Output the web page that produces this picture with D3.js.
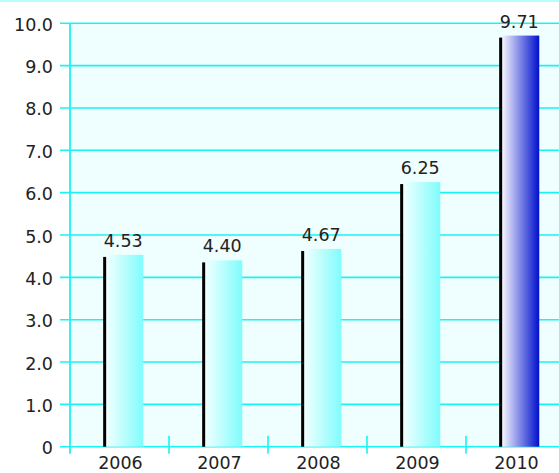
<!DOCTYPE html>
<html>
<head>
<meta charset="utf-8">
<script src="https://cdn.jsdelivr.net/npm/d3@7"></script>
<style>
  html, body { margin: 0; padding: 0; background: #ffffff; }
  svg { display: block; }
  text { font-family: "DejaVu Sans", sans-serif; font-size: 17.5px; fill: #222; }
</style>
</head>
<body>
<svg id="chart" width="559" height="473"></svg>
<script>
// Yearly values
const years = ["2006", "2007", "2008", "2009", "2010"];
const values = [4.53, 4.40, 4.67, 6.25, 9.71];
const yTicks = [0, 1, 2, 3, 4, 5, 6, 7, 8, 9, 10];
const yTickLabels = ["0", "1.0", "2.0", "3.0", "4.0", "5.0", "6.0", "7.0", "8.0", "9.0", "10.0"];

const W = 559, H = 473;
const plotLeft = 70, plotRight = 565, plotTop = 23.3, plotBottom = 446.7;
const grid = "#19f3f3";

const svg = d3.select("#chart");

const x = d3.scaleBand().domain(years).range([plotLeft, plotRight]).padding(0);
const y = d3.scaleLinear().domain([0, 10]).range([plotBottom, plotTop]);
const bw = x.bandwidth();

// gradients
const defs = svg.append("defs");
const gCyan = defs.append("linearGradient").attr("id", "gCyan");
gCyan.append("stop").attr("offset", "0%").attr("stop-color", "#f2ffff");
gCyan.append("stop").attr("offset", "100%").attr("stop-color", "#80fcfc");
const gBlue = defs.append("linearGradient").attr("id", "gBlue");
gBlue.append("stop").attr("offset", "0%").attr("stop-color", "#f6f6ff");
gBlue.append("stop").attr("offset", "100%").attr("stop-color", "#0010cc");

// thin strip along the top edge
svg.append("rect").attr("x", 0).attr("y", 0).attr("width", W).attr("height", 2)
  .attr("fill", "#b8fdfd");

// plot background
svg.append("rect")
  .attr("x", plotLeft).attr("y", plotTop)
  .attr("width", W - plotLeft).attr("height", plotBottom - plotTop)
  .attr("fill", "#effefe");

// horizontal gridlines (extend left as ticks)
svg.append("g").selectAll("line").data(yTicks).join("line")
  .attr("x1", plotLeft - 10).attr("x2", W)
  .attr("y1", d => y(d)).attr("y2", d => y(d))
  .attr("stroke", grid).attr("stroke-width", 1.6);

// y tick labels
svg.append("g").selectAll("text").data(yTicks).join("text")
  .attr("x", 53).attr("y", d => y(d) + 7.5)
  .attr("text-anchor", "end")
  .text((d, i) => yTickLabels[i]);

// vertical axis line
svg.append("line")
  .attr("x1", plotLeft).attr("x2", plotLeft)
  .attr("y1", plotTop).attr("y2", plotBottom + 7)
  .attr("stroke", grid).attr("stroke-width", 1.8);

// x category separators
svg.append("g").selectAll("line").data(years.slice(1)).join("line")
  .attr("x1", d => x(d)).attr("x2", d => x(d))
  .attr("y1", plotBottom - 11).attr("y2", plotBottom + 7)
  .attr("stroke", grid).attr("stroke-width", 1.6);

// bars
const barX = d => x(d) + bw * 0.335;
const barW = bw * 0.405;
const bars = svg.append("g").selectAll("g").data(years).join("g");
bars.append("rect")
  .attr("x", d => barX(d) + 3)
  .attr("y", (d, i) => y(values[i]))
  .attr("width", barW - 3)
  .attr("height", (d, i) => plotBottom - y(values[i]))
  .attr("fill", (d, i) => i === years.length - 1 ? "url(#gBlue)" : "url(#gCyan)");
bars.append("rect")
  .attr("x", d => barX(d))
  .attr("y", (d, i) => y(values[i]) + 2)
  .attr("width", 3)
  .attr("height", (d, i) => plotBottom - y(values[i]) - 2)
  .attr("fill", "#000");

// value labels
svg.append("g").selectAll("text").data(years).join("text")
  .attr("x", d => barX(d) + barW / 2)
  .attr("y", (d, i) => y(values[i]) - 8)
  .attr("text-anchor", "middle")
  .text((d, i) => values[i].toFixed(2));

// category labels
svg.append("g").selectAll("text").data(years).join("text")
  .attr("x", d => x(d) + bw / 2 + 1)
  .attr("y", 469)
  .attr("text-anchor", "middle")
  .text(d => d);
</script>
</body>
</html>
